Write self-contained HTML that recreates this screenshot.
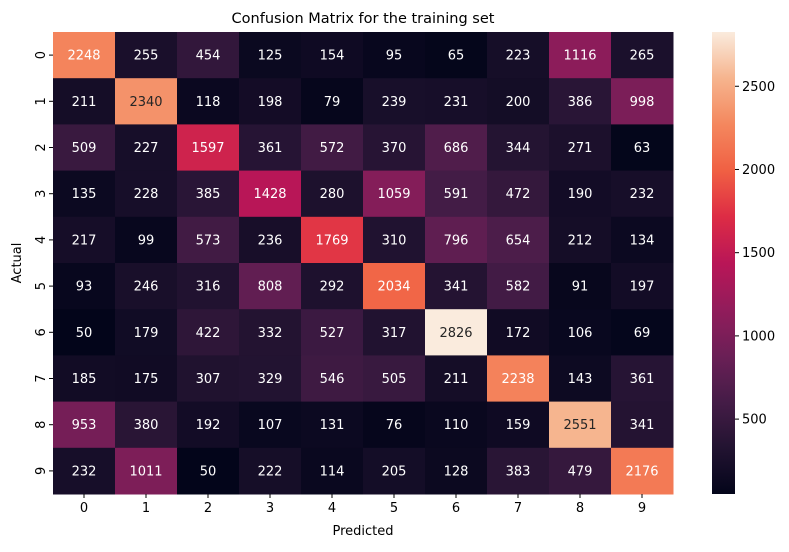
<!DOCTYPE html>
<html><head><meta charset="utf-8"><style>
body{margin:0;background:#fff;font-family:"Liberation Sans","DejaVu Sans",sans-serif}
svg text{font-family:"DejaVu Sans","Liberation Sans",sans-serif}
</style></head><body>
<svg id="chart" width="789" height="547" xmlns="http://www.w3.org/2000/svg">
<defs><linearGradient id="cbgrad" x1="0" y1="1" x2="0" y2="0"></linearGradient></defs>
<text x="363" y="23" text-anchor="middle" font-size="14.5">Confusion Matrix for the training set</text>
<g id="cells"></g>
<g id="axes"></g>
<text x="363" y="535" text-anchor="middle" font-size="13">Predicted</text>
<text transform="translate(21,263) rotate(-90)" text-anchor="middle" font-size="13">Actual</text>
<rect x="712" y="32" width="23" height="462" fill="url(#cbgrad)"/>
<g id="cbticks"></g>
</svg>
<script>
const categories = ["0","1","2","3","4","5","6","7","8","9"];
const row0 = [2248,255,454,125,154,95,65,223,1116,265];
const row1 = [211,2340,118,198,79,239,231,200,386,998];
const row2 = [509,227,1597,361,572,370,686,344,271,63];
const row3 = [135,228,385,1428,280,1059,591,472,190,232];
const row4 = [217,99,573,236,1769,310,796,654,212,134];
const row5 = [93,246,316,808,292,2034,341,582,91,197];
const row6 = [50,179,422,332,527,317,2826,172,106,69];
const row7 = [185,175,307,329,546,505,211,2238,143,361];
const row8 = [953,380,192,107,131,76,110,159,2551,341];
const row9 = [232,1011,50,222,114,205,128,383,479,2176];
const matrix = [row0,row1,row2,row3,row4,row5,row6,row7,row8,row9];
const colorbarTicks = [500,1000,1500,2000,2500];

const NS="http://www.w3.org/2000/svg";
const X0=53,Y0=32,W=620,H=462;
const all=matrix.flat();
const vmin=Math.min(...all),vmax=Math.max(...all);
const stops=["#03051A","#221331","#451C47","#6B1F56","#921C5B","#B91657","#DD2C45","#F06043","#F4875E","#F6B48E","#FAEBDD"];
function hex(h){return [1,3,5].map(i=>parseInt(h.substr(i,2),16));}
function cmap(t){t=Math.max(0,Math.min(1,t));const p=t*10,i=Math.min(9,Math.floor(p)),f=p-i;const a=hex(stops[i]),b=hex(stops[i+1]);return a.map((v,k)=>Math.round(v+(b[k]-v)*f));}
function lum(c){const l=c.map(v=>{v/=255;return v<=0.03928?v/12.92:Math.pow((v+0.055)/1.055,2.4)});return 0.2126*l[0]+0.7152*l[1]+0.0722*l[2];}
const cw=W/categories.length,ch=H/categories.length;
const xs=j=>X0+j*cw, ys=i=>Y0+i*ch;
const cells=document.getElementById('cells');
matrix.forEach((row,i)=>row.forEach((v,j)=>{
  const c=cmap((v-vmin)/(vmax-vmin));
  const r=document.createElementNS(NS,'rect');
  
  
  r.setAttribute('x',xs(j));r.setAttribute('y',ys(i));r.setAttribute('width',cw+0.5);r.setAttribute('height',ch+0.5);
  r.setAttribute('fill','rgb('+c.join(',')+')');cells.appendChild(r);
  const t=document.createElementNS(NS,'text');
  
  
  t.setAttribute('x',xs(j)+cw/2);t.setAttribute('y',ys(i)+ch/2+4.5);t.setAttribute('text-anchor','middle');t.setAttribute('font-size','13');
  t.setAttribute('fill',lum(c)>0.408?'#262626':'#ffffff');t.textContent=v;cells.appendChild(t);
}));
const axes=document.getElementById('axes');
categories.forEach((c,k)=>{
  let l=document.createElementNS(NS,'line');
  
  
  l.setAttribute('x1',xs(k)+cw/2);l.setAttribute('x2',xs(k)+cw/2);l.setAttribute('y1',Y0+H);l.setAttribute('y2',Y0+H+4);l.setAttribute('stroke','#000');axes.appendChild(l);
  let t=document.createElementNS(NS,'text');
  
  
  t.setAttribute('x',xs(k)+cw/2);t.setAttribute('y',Y0+H+18);t.setAttribute('text-anchor','middle');t.setAttribute('font-size','13');t.textContent=c;axes.appendChild(t);
  l=document.createElementNS(NS,'line');
  
  
  l.setAttribute('y1',ys(k)+ch/2);l.setAttribute('y2',ys(k)+ch/2);l.setAttribute('x1',X0-4);l.setAttribute('x2',X0);l.setAttribute('stroke','#000');axes.appendChild(l);
  t=document.createElementNS(NS,'text');
  
  
  t.setAttribute('transform','translate('+(X0-8)+','+(ys(k)+ch/2)+') rotate(-90)');t.setAttribute('text-anchor','middle');t.setAttribute('font-size','13');t.textContent=c;axes.appendChild(t);
});
const g=document.getElementById('cbgrad');
for(let k=0;k<=20;k++){const s=document.createElementNS(NS,'stop');s.setAttribute('offset',k/20);s.setAttribute('stop-color','rgb('+cmap(k/20).join(',')+')');g.appendChild(s);}
const cbt=document.getElementById('cbticks');
colorbarTicks.forEach(v=>{
  const y=Y0+H-(v-vmin)/(vmax-vmin)*H;
  const l=document.createElementNS(NS,'line');
  
  
  l.setAttribute('x1',735);l.setAttribute('x2',739);l.setAttribute('y1',y);l.setAttribute('y2',y);l.setAttribute('stroke','#000');cbt.appendChild(l);
  const t=document.createElementNS(NS,'text');
  
  
  t.setAttribute('x',742);t.setAttribute('y',y+4.5);t.setAttribute('font-size','13');t.textContent=v;cbt.appendChild(t);
});
</script>
</body></html>
